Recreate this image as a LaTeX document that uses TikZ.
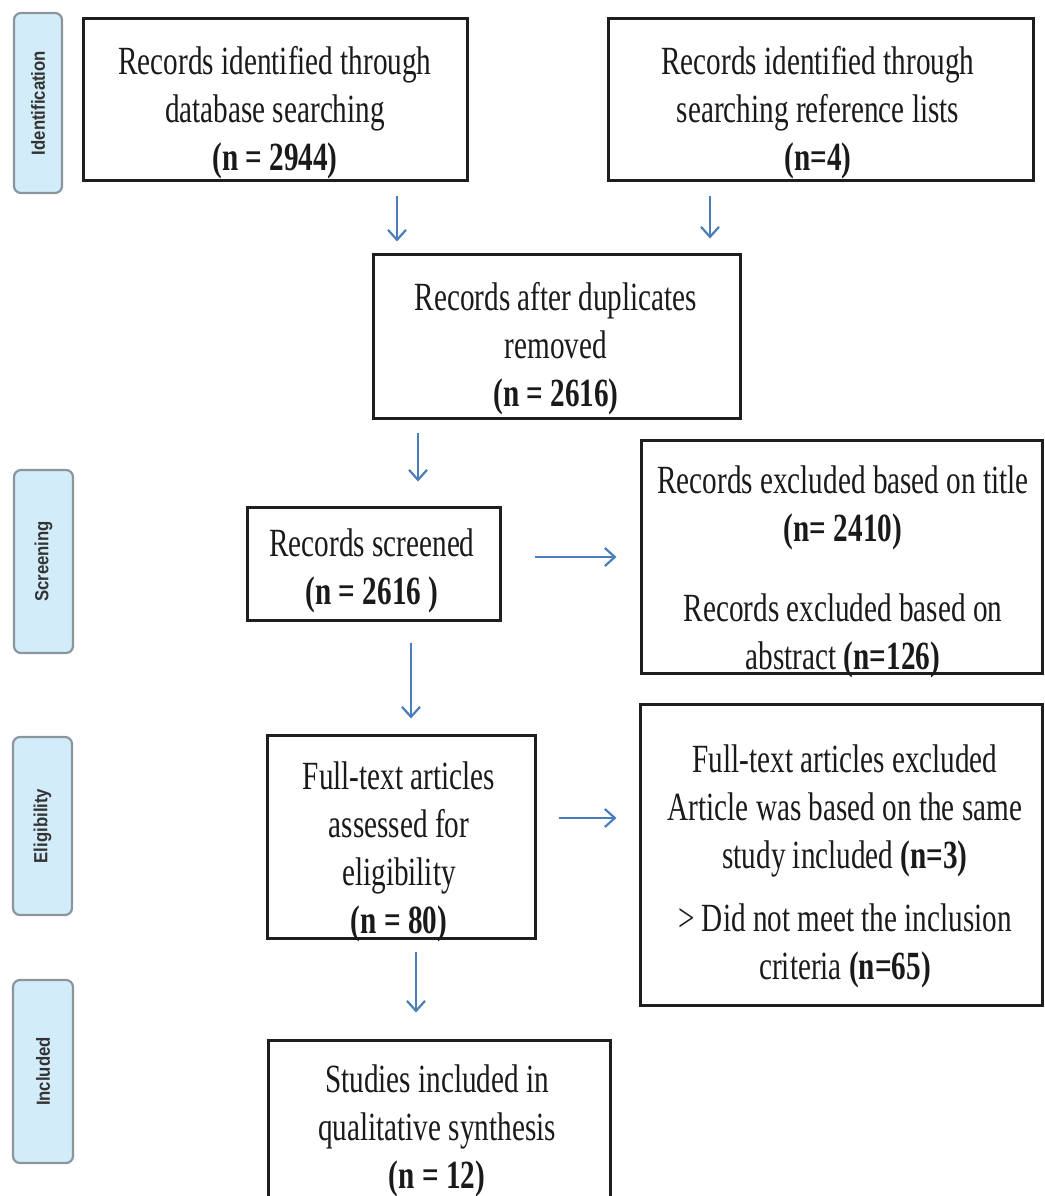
\documentclass[tikz,border=0pt]{standalone}
\usepackage{fontspec}
\setmainfont{Liberation Serif}[FakeStretch=0.73]
\newfontfamily\tabfont{Liberation Sans}[FakeStretch=0.88]
\usetikzlibrary{arrows.meta}
\definecolor{arrowblue}{HTML}{4A7EBB}
\definecolor{tabfill}{HTML}{D3ECFA}
\definecolor{tabdraw}{HTML}{8A959C}
\definecolor{boxdraw}{HTML}{1E1E1E}
\definecolor{txt}{HTML}{1A1A1A}
\begin{document}
\begin{tikzpicture}[x=1pt,y=-1pt,
  box/.style={draw=boxdraw, line width=3pt, rectangle, inner sep=0pt},
  btext/.style={align=center, inner sep=0pt, text=txt, font=\fontsize{40}{48}\selectfont},
  tabbox/.style={draw=tabdraw, fill=tabfill, line width=2.2pt, rounded corners=7pt, inner sep=0pt},
  tabtext/.style={rotate=90, inner sep=0pt, text=black!80, font=\tabfont\bfseries\fontsize{19}{21}\selectfont},
  arr/.style={draw=arrowblue, line width=2.2pt, -{Straight Barb[length=10pt,width=18pt,line width=2.2pt]}}
]
\useasboundingbox (0,0) rectangle (1044,1196);
\begin{scope}
\clip (0,0) rectangle (1044,1196);

% side tabs
\node[tabbox, minimum width=48, minimum height=180] (tab1) at (38,103) {};
\node[tabtext] (tt1) at (tab1.center) {Identification};
\node[tabbox, minimum width=59, minimum height=183] (tab2) at (43.5,561.5) {};
\node[tabtext] (tt2) at (tab2.center) {Screening};
\node[tabbox, minimum width=59, minimum height=178] (tab3) at (42.5,826) {};
\node[tabtext] (tt3) at (tab3.center) {Eligibility};
\node[tabbox, minimum width=60, minimum height=183] (tab4) at (43,1071.5) {};
\node[tabtext] (tt4) at (tab4.center) {Included};

% boxes
\node[box, minimum width=384, minimum height=161] (b1) at (275,99.5) {};
\node[box, minimum width=425, minimum height=161] (b2) at (820.5,99.5) {};
\node[box, minimum width=367, minimum height=164] (b3) at (556.5,336) {};
\node[box, minimum width=253, minimum height=113] (b4) at (373.5,563.5) {};
\node[box, minimum width=401, minimum height=233] (b5) at (841.5,556.5) {};
\node[box, minimum width=268, minimum height=203] (b6) at (401,836.5) {};
\node[box, minimum width=402, minimum height=301] (b7) at (841,854.5) {};
\node[box, minimum width=342, minimum height=170] (b8) at (439,1125) {};

% texts
\node[btext] (t1) at (275,113) {Records identified through\\database searching\\\textbf{(n = 2944)}};
\node[btext] (t2) at (818,113) {Records identified through\\searching reference lists\\\textbf{(n=4)}};
\node[btext] (t3) at (556,349) {Records after duplicates\\removed\\\textbf{(n = 2616)}};
\node[btext] (t4) at (372,571) {Records screened\\\textbf{(n = 2616 )}};
\node[btext] (t5) at (843,572) {Records excluded based on title\\\textbf{(n= 2410)}\\[32pt]Records excluded based on\\abstract \textbf{(n=126)}};
\node[btext] (t6) at (399,852) {Full-text articles\\assessed for\\eligibility\\\textbf{(n = 80)}};
\node[btext] (t7) at (845,866) {Full-text articles excluded\\Article was based on the same\\study included \textbf{(n=3)}\\[15pt]> Did not meet the inclusion\\criteria \textbf{(n=65)}};
\node[btext] (t8) at (437,1131) {Studies included in\\qualitative synthesis\\\textbf{(n = 12)}};

% connectors
\draw[arr, shorten <=14pt, shorten >=11pt] (b1.south -| 397,0) -- (b3.north -| 397,0);
\draw[arr, shorten <=14pt, shorten >=14pt] (b2.south -| 710,0) -- (b3.north -| 710,0);
\draw[arr, shorten <=13pt, shorten >=24pt] (b3.south -| 418,0) -- (b4.north -| 418,0);
\draw[arr, shorten <=33pt, shorten >=23pt] (b4.east |- 0,557) -- (b5.west |- 0,557);
\draw[arr, shorten <=21pt, shorten >=15pt] (b4.south -| 411,0) -- (b6.north -| 411,0);
\draw[arr, shorten <=22pt, shorten >=22pt] (b6.east |- 0,818) -- (b7.west |- 0,818);
\draw[arr, shorten <=12pt, shorten >=26pt] (b6.south -| 416,0) -- (b8.north -| 416,0);
\end{scope}
\end{tikzpicture}
\end{document}
